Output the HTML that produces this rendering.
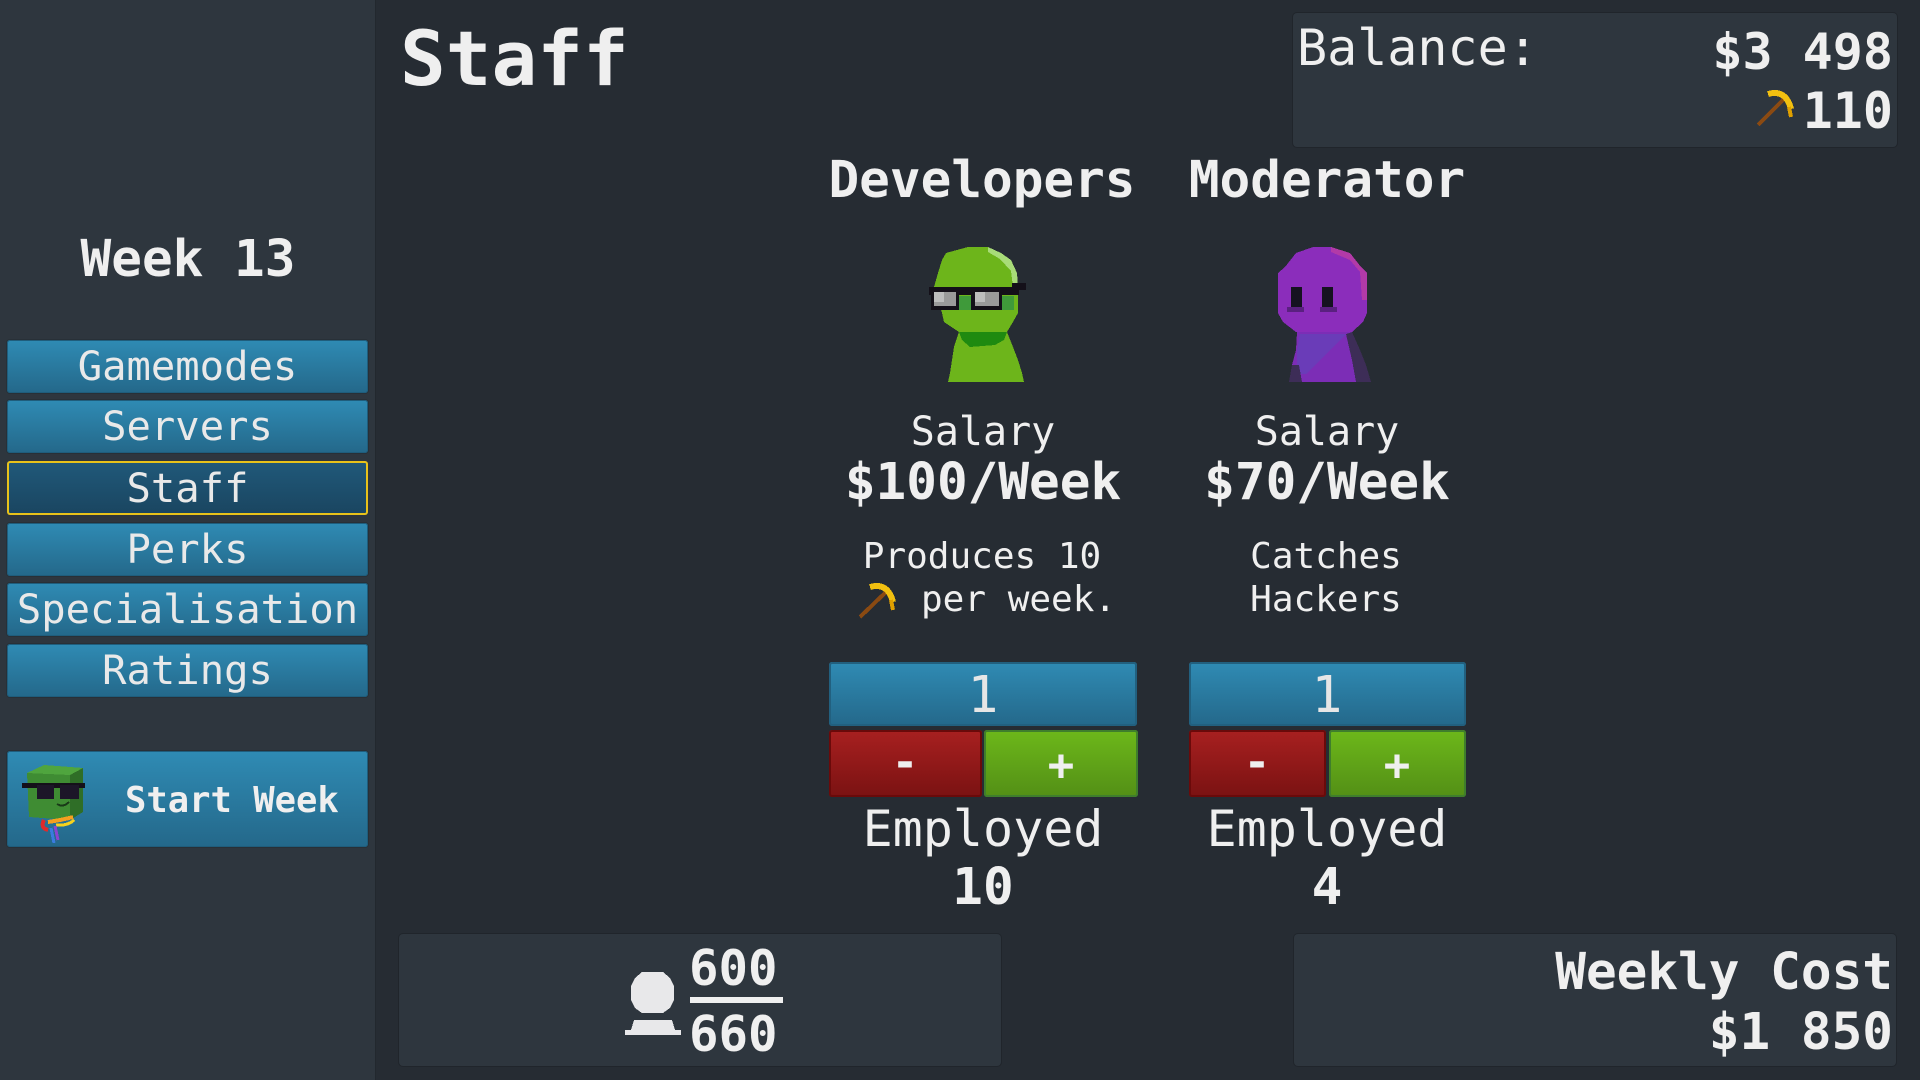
<!DOCTYPE html>
<html><head><meta charset="utf-8">
<style>
html,body{margin:0;padding:0;}
body{width:1920px;height:1080px;overflow:hidden;background:#262c33;position:relative;font-family:"DejaVu Sans Mono","Liberation Mono",monospace;}
.sb{position:absolute;left:0;top:0;width:375px;height:1080px;background:#2e363e;border-right:1px solid #22282e;}
.t{position:absolute;color:#efefef;white-space:pre;line-height:1;}
.b{font-weight:bold;}
.c{width:600px;text-align:center;}
.r{text-align:right;}
.btn{position:absolute;left:7px;width:361px;height:53px;border-radius:3px;background:linear-gradient(#2f8bb4,#24688a);box-shadow:inset 0 0 0 1px #1f5d7c,0 0 0 1px #283037;color:#e9e9e9;text-align:center;line-height:53px;font-size:40.5px;white-space:pre;}
.sel{background:linear-gradient(#20597a,#1a4560);box-shadow:inset 0 0 0 2px #e8c21a;}
.box{position:absolute;background:#2e363e;border-radius:4px;box-shadow:0 0 0 1px #20252b;}
.blue{position:absolute;background:linear-gradient(#2f8bb4,#24688a);border-radius:3px;box-shadow:inset 0 0 0 2px #22607f;}
.red{position:absolute;background:linear-gradient(#a82020,#7a1212);border-radius:3px;box-shadow:inset 0 0 0 2px #6a0a0a;}
.green{position:absolute;background:linear-gradient(#6db81a,#538f16);border-radius:3px;box-shadow:inset 0 0 0 2px #3f7e2c;}
</style></head><body>
<div class="sb"></div>

<div class="t b" style="left:400px;top:21px;font-size:76px;">Staff</div>
<div class="t b c" style="left:-112px;top:234px;font-size:51px;">Week 13</div>

<div class="btn" style="top:340px;">Gamemodes</div>
<div class="btn" style="top:400px;">Servers</div>
<div class="btn sel" style="top:461px;height:54px;line-height:54px;">Staff</div>
<div class="btn" style="top:523px;">Perks</div>
<div class="btn" style="top:583px;">Specialisation</div>
<div class="btn" style="top:644px;">Ratings</div>

<div class="btn" style="top:751px;height:96px;"></div>
<div class="t b" style="left:125px;top:783px;font-size:35.5px;">Start Week</div>

<div class="box" style="left:1293px;top:13px;width:604px;height:134px;"></div>
<div class="t" style="left:1297px;top:23px;font-size:50px;">Balance:</div>
<div class="t b r" style="right:27px;top:27px;font-size:50px;">$3 498</div>
<div class="t b r" style="right:27px;top:86px;font-size:50px;">110</div>

<div class="t b c" style="left:682px;top:155px;font-size:51px;">Developers</div>
<div class="t b c" style="left:1027px;top:155px;font-size:51px;">Moderator</div>

<div class="t c" style="left:683px;top:412px;font-size:40px;">Salary</div>
<div class="t c" style="left:1027px;top:412px;font-size:40px;">Salary</div>
<div class="t b c" style="left:683px;top:457px;font-size:51px;">$100/Week</div>
<div class="t b c" style="left:1027px;top:457px;font-size:51px;">$70/Week</div>

<div class="t c" style="left:682px;top:539px;font-size:36px;">Produces 10</div>
<div class="t" style="left:921px;top:582px;font-size:36px;">per week.</div>
<div class="t c" style="left:1026px;top:539px;font-size:36px;">Catches</div>
<div class="t c" style="left:1026px;top:582px;font-size:36px;">Hackers</div>

<div class="blue" style="left:829px;top:662px;width:308px;height:64px;"></div>
<div class="blue" style="left:1189px;top:662px;width:277px;height:64px;"></div>
<div class="red" style="left:829px;top:730px;width:153px;height:67px;"></div>
<div class="green" style="left:984px;top:730px;width:154px;height:67px;"></div>
<div class="red" style="left:1189px;top:730px;width:137px;height:67px;"></div>
<div class="green" style="left:1329px;top:730px;width:137px;height:67px;"></div>

<div class="t c" style="left:683px;top:670px;font-size:51px;color:#e6e6e6;">1</div>
<div class="t c" style="left:1027px;top:670px;font-size:51px;color:#e6e6e6;">1</div>
<div class="t b c" style="left:605px;top:741px;font-size:44px;">-</div>
<div class="t b c" style="left:761px;top:744px;font-size:44px;">+</div>
<div class="t b c" style="left:957px;top:741px;font-size:44px;">-</div>
<div class="t b c" style="left:1097px;top:744px;font-size:44px;">+</div>

<div class="t c" style="left:683px;top:804px;font-size:50px;">Employed</div>
<div class="t c" style="left:1027px;top:804px;font-size:50px;">Employed</div>
<div class="t b c" style="left:683px;top:862px;font-size:51px;">10</div>
<div class="t b c" style="left:1027px;top:862px;font-size:51px;">4</div>

<div class="box" style="left:399px;top:934px;width:602px;height:132px;"></div>
<div class="box" style="left:1294px;top:934px;width:602px;height:132px;"></div>
<div class="t b" style="left:689px;top:944px;font-size:49px;">600</div>
<div class="t b" style="left:689px;top:1010px;font-size:49px;">660</div>
<div class="t b r" style="right:27px;top:947px;font-size:51px;">Weekly Cost</div>
<div class="t b r" style="right:27px;top:1007px;font-size:51px;">$1 850</div>

<svg style="position:absolute;left:0;top:0;" width="1920" height="1080" viewBox="0 0 1920 1080" shape-rendering="crispEdges">
  <rect x="690" y="997" width="93" height="6" fill="#efefef"/>
  <polygon points="642,972 663,972 670,978 674,986 674,1000 670,1008 663,1013 642,1013 635,1008 631,1000 631,986 635,978" fill="#e8e8ea"/>
  <polygon points="634,1020 672,1020 675,1030 681,1030 681,1035 625,1035 625,1030 631,1030" fill="#e8e8ea"/>

  <polygon points="959,332 1007,332 1013,347 1018,360 1022,373 1024,382 948,382 950,373 954,347" fill="#6db51b"/>
  <polygon points="968,247 988,247 1001,253 1011,260 1017,273 1018,287 1018,313 1013,322 1007,332 959,332 944,322 942,313 934,287 938,273 942,260 946,253" fill="#6db51b"/>
  <polygon points="988,247 1001,253 1011,260 1017,273 1018,287 1013,287 1011,271 1000,259 988,252" fill="#a8dc78"/>
  <polygon points="959,332 1007,332 1004,340 995,345 970,347 962,340" fill="#1f8a10"/>
  <rect x="929" y="287" width="90" height="8" fill="#141019"/>
  <rect x="1012" y="283" width="14" height="7" fill="#141019"/>
  <rect x="931" y="287" width="28" height="23" fill="#141019"/>
  <rect x="971" y="287" width="31" height="23" fill="#141019"/>
  <rect x="934" y="292" width="22" height="14" fill="#9a9a9a"/>
  <rect x="934" y="292" width="10" height="10" fill="#bdbdbd"/>
  <rect x="975" y="292" width="24" height="14" fill="#9a9a9a"/>
  <rect x="975" y="292" width="10" height="10" fill="#bdbdbd"/>
  <rect x="959" y="296" width="12" height="14" fill="#3f9a3a"/>
  <rect x="1002" y="296" width="12" height="14" fill="#3f9a3a"/>

  <polygon points="1297,332 1352,332 1360,350 1366,365 1371,382 1289,382 1292,365 1296,350" fill="#7c2db6"/>
  <polygon points="1300,334 1346,334 1326,354 1306,374 1297,374 1297,350" fill="#6a3cb8"/>
  <polygon points="1352,332 1360,350 1366,365 1371,382 1356,382 1352,360 1346,334" fill="#3d2d57"/>
  <polygon points="1289,382 1292,365 1299,365 1302,382" fill="#3d2d57"/>
  <polygon points="1313,247 1331,247 1350,253 1361,267 1367,273 1367,313 1363,322 1352,332 1296,332 1283,322 1278,313 1278,273 1285,267 1296,253" fill="#8b2dbb"/>
  <polygon points="1331,247 1350,253 1361,267 1367,273 1367,300 1362,300 1360,272 1350,260 1331,252" fill="#b23aa8"/>
  <rect x="1291" y="287" width="11" height="21" fill="#151220"/>
  <rect x="1322" y="287" width="11" height="21" fill="#151220"/>
  <rect x="1287" y="307" width="17" height="5" fill="#5a2080"/>
  <rect x="1320" y="307" width="17" height="5" fill="#5a2080"/>

  <g transform="translate(1755,89)">
    <line x1="3" y1="36" x2="29" y2="10" stroke="#8a4a12" stroke-width="4"/>
    <path d="M13 5 Q31 0 36 20" stroke="#f2c010" stroke-width="6" fill="none"/>
    <path d="M34 18 L36 28" stroke="#e0a000" stroke-width="4"/>
  </g>
  <g transform="translate(857,582)">
    <line x1="3" y1="35" x2="29" y2="10" stroke="#8a4a12" stroke-width="4"/>
    <path d="M13 5 Q31 0 36 20" stroke="#f2c010" stroke-width="6" fill="none"/>
    <path d="M34 18 L36 28" stroke="#e0a000" stroke-width="4"/>
  </g>

  <g>
    <polygon points="27,773 44,765 83,768 70,775" fill="#4fa53e"/>
    <polygon points="27,773 70,775 70,820 29,817" fill="#3f8c33"/>
    <polygon points="70,775 83,768 83,812 70,820" fill="#2f6e27"/>
    <rect x="22" y="783" width="63" height="5" fill="#141019"/>
    <rect x="37" y="785" width="17" height="14" fill="#1c1628"/>
    <rect x="60" y="785" width="19" height="14" fill="#1c1628"/>
    <path d="M57 804 Q63 808 69 802" stroke="#1a3a18" stroke-width="2" fill="none"/>
    <path d="M44 820 Q40 828 48 830" stroke="#e02a2a" stroke-width="4" fill="none"/>
    <path d="M48 822 Q62 820 73 817" stroke="#f5a020" stroke-width="4" fill="none"/>
    <path d="M56 825 Q68 826 74 820" stroke="#f7d21e" stroke-width="3" fill="none"/>
    <line x1="51" y1="828" x2="54" y2="843" stroke="#3a7be0" stroke-width="3"/>
    <line x1="55" y1="826" x2="58" y2="840" stroke="#8a44d0" stroke-width="3"/>
  </g>
</svg>
</body></html>
